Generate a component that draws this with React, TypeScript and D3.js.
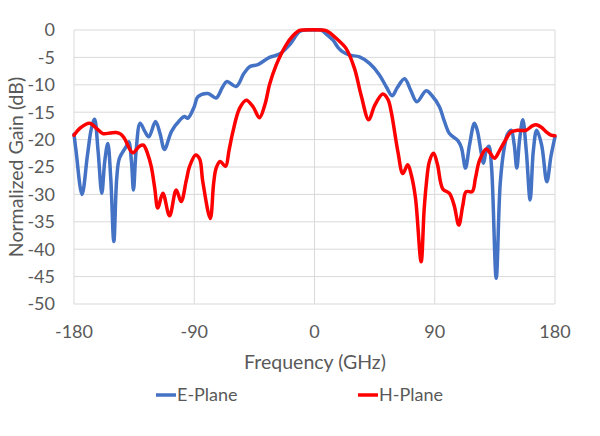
import React from "react";
import * as d3 from "d3";

const xTicks = [-180, -90, 0, 90, 180];
const yTicks = [0, -5, -10, -15, -20, -25, -30, -35, -40, -45, -50];

const eX = [-180,-178.5,-174,-170,-167,-164.6,-162,-159.2,-157,-154.7,-152.5,-150.2,-148,-146,-141,-139,-137,-135.5,-133.5,-130.5,-127,-124,-119,-115.5,-112.3,-107,-101,-97.3,-94.8,-90,-87.3,-79.8,-73.6,-69,-65.6,-58.6,-53,-48.6,-42.4,-33.7,-26.2,-18.7,-11.2,-7,0,5,9,13.7,18,21.2,26.2,33.7,41.2,48.6,54,58.1,62,67.4,72,76.6,83.6,88,93.5,97,101,107.3,110,113,116,119.7,122,124.5,126.5,128.5,130.5,132.5,136,139,142,144.5,147.2,149.5,151.4,153.5,155.9,158.5,161.4,163.8,166.3,170,173.9,177,180];
const eY = [-19,-22,-30,-23,-18,-16.3,-22,-29.8,-24,-20.7,-27,-38.6,-27,-23.4,-21.3,-20.4,-24,-29.2,-22,-17,-18.5,-19.5,-16.7,-19,-21.8,-18.5,-16.5,-15.8,-16.1,-14,-12.2,-11.6,-12.4,-10.5,-9.4,-10.3,-8,-6.7,-6.3,-5,-4.4,-2.7,-0.3,0,0,0,-0.8,-1.8,-3.3,-4,-4.6,-4.9,-6.1,-8.2,-10.5,-12,-10.5,-8.9,-11,-13.1,-11.1,-12,-14,-16.5,-18.9,-20.2,-21.5,-25.2,-21,-17,-18.5,-22,-24.3,-22,-21.2,-25,-45.3,-28,-21.5,-19,-18.3,-21,-25.2,-20,-16.4,-22,-31,-22,-18.3,-21,-27.7,-23,-19.5];

const hX = [-180,-175,-168.4,-163,-158.4,-153,-148.4,-145,-142.2,-136,-131,-128,-125,-122.2,-119.5,-117.3,-113.5,-108.5,-103.5,-99.8,-96,-93.5,-89,-86,-83.6,-78,-75.5,-73.6,-70.6,-66.6,-64,-61.1,-56.1,-51.1,-46,-41.2,-37,-33.7,-28.7,-21.2,-16,-11.2,-8,5,8.7,12,16.2,23.7,29.9,34.9,40.6,45,51.1,55,57.4,62.4,66.1,69.8,72.5,75.6,79.8,82,83.6,86,89.1,92,96,101,104.5,108,111,113.5,118,120.5,123.5,128.5,131,134.7,138.5,142.2,147.2,152,158.4,163,165.9,170,173.4,177,180];
const hY = [-19.2,-17.8,-17,-18,-18.9,-18.8,-18.7,-19,-19.8,-22.4,-21.2,-21,-22.5,-24.9,-29,-32.5,-29.8,-33.9,-29.2,-31.3,-27.5,-24.9,-22.8,-23.5,-27.7,-34.4,-28,-25.2,-24,-24.9,-22,-18.6,-14.3,-12.8,-14,-16,-13.5,-10,-6.4,-2.7,-1,-0.05,0,0,-0.1,-0.6,-1.5,-3.4,-7,-11.9,-16.4,-13.8,-11.7,-12.7,-14.9,-22.2,-26.2,-24.6,-26.5,-30.7,-42.3,-33,-28.3,-24,-22.5,-24.5,-29,-29.8,-32,-35.6,-32,-29.5,-29.5,-27,-23.8,-21.7,-22.3,-23.4,-22,-20.4,-18.6,-18.3,-18.3,-17.5,-17.3,-17.8,-18.6,-19.2,-19.3];

const seriesNames = ["E-Plane", "H-Plane"];
const colors = ["#4472C4", "#FF0000"];

const W = 600, H = 436;
const FONT = "Lato, 'Open Sans', sans-serif";
const TEXT = "#595959";

export default function App() {
  const x = d3.scaleLinear().domain([-180, 180]).range([74, 555]);
  const y = d3.scaleLinear().domain([-50, 0]).range([304, 30]);
  const line = d3
    .line<[number, number]>()
    .x((d) => x(d[0]))
    .y((d) => y(d[1]))
    .curve(d3.curveCatmullRom.alpha(0.5));
  const eData = eX.map((v, i) => [v, eY[i]] as [number, number]);
  const hData = hX.map((v, i) => [v, hY[i]] as [number, number]);

  return (
    <div style={{ position: "absolute", left: 0, top: 0 }}>
      <svg width={W} height={H} style={{ display: "block", background: "#fff" }}>
        {yTicks.map((t) => (
          <line key={"gy" + t} x1={x(-180)} x2={x(180)} y1={y(t)} y2={y(t)} stroke="#D9D9D9" strokeWidth={1} />
        ))}
        {xTicks.map((t) => (
          <line key={"gx" + t} x1={x(t)} x2={x(t)} y1={y(0)} y2={y(-50)} stroke="#D9D9D9" strokeWidth={1} />
        ))}
        {yTicks.map((t) => (
          <text key={"ty" + t} x={55} y={y(t)} dy="0.35em" textAnchor="end" fontFamily={FONT} fontSize={18} fill={TEXT}>
            {t}
          </text>
        ))}
        {xTicks.map((t) => (
          <text key={"tx" + t} x={x(t)} y={332} dy="0.35em" textAnchor="middle" fontFamily={FONT} fontSize={18} fill={TEXT}>
            {t}
          </text>
        ))}
        <path d={line(eData) || ""} fill="none" stroke={colors[0]} strokeWidth={3.5} strokeLinejoin="round" strokeLinecap="round" />
        <path d={line(hData) || ""} fill="none" stroke={colors[1]} strokeWidth={3.5} strokeLinejoin="round" strokeLinecap="round" />
        <text x={315} y={362} dy="0.35em" textAnchor="middle" fontFamily={FONT} fontSize={19.5} fill={TEXT}>
          Frequency (GHz)
        </text>
        <text transform={`translate(16,167) rotate(-90)`} dy="0.35em" textAnchor="middle" fontFamily={FONT} fontSize={19.5} fill={TEXT}>
          Normalized Gain (dB)
        </text>
        {seriesNames.map((n, i) => {
          const lx = i === 0 ? 156 : 358;
          return (
            <g key={n}>
              <line x1={lx} x2={lx + 20} y1={395} y2={395} stroke={colors[i]} strokeWidth={3.5} />
              <text x={lx + 21} y={395} dy="0.35em" fontFamily={FONT} fontSize={18} fill={TEXT}>
                {n}
              </text>
            </g>
          );
        })}
      </svg>
    </div>
  );
}
